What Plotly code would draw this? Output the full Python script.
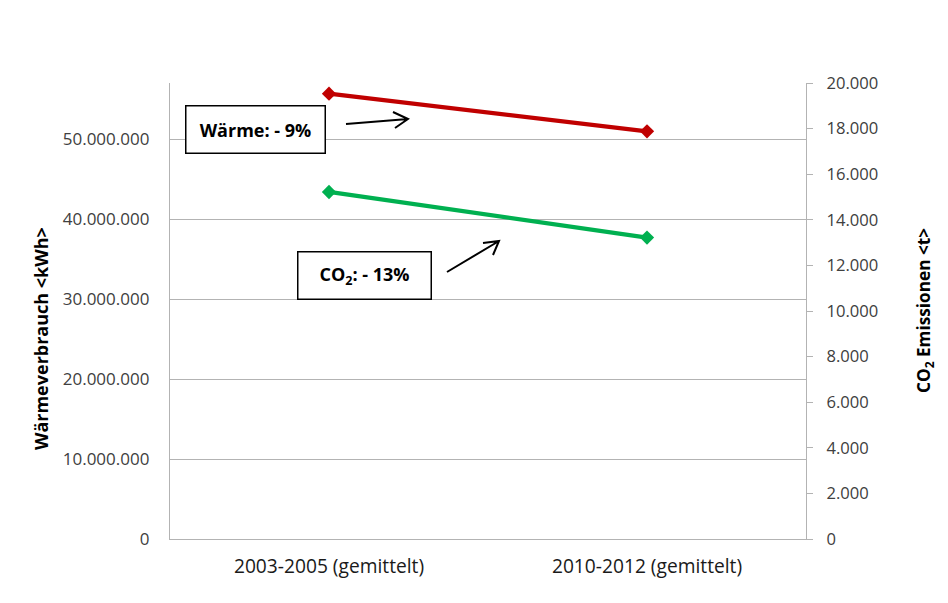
import plotly.graph_objects as go

categories = ["2003-2005 (gemittelt)", "2010-2012 (gemittelt)"]
waerme_kwh = [55_670_000, 50_960_000]
co2_t = [15_220, 13_220]
left_ticks = [0, 10_000_000, 20_000_000, 30_000_000, 40_000_000, 50_000_000]
left_ticklabels = ["0", "10.000.000", "20.000.000", "30.000.000", "40.000.000", "50.000.000"]
right_ticks = [0, 2000, 4000, 6000, 8000, 10000, 12000, 14000, 16000, 18000, 20000]
right_ticklabels = ["0", "2.000", "4.000", "6.000", "8.000", "10.000", "12.000",
                    "14.000", "16.000", "18.000", "20.000"]

W, H = 948, 603
L, R, T, B = 170, 806, 83, 539

def px(x):
    return (x - L) / (R - L)

def py(y):
    return (B - y) / (B - T)

FONT = "Open Sans"
TICKCOL = "#404040"
GRID = "#b3b3b3"

fig = go.Figure()
fig.add_trace(go.Scatter(
    x=categories, y=waerme_kwh, mode="lines+markers", name="Wärme",
    line=dict(color="#C00000", width=4.3),
    marker=dict(symbol="diamond", size=11, color="#C00000"),
    yaxis="y", cliponaxis=False))
fig.add_trace(go.Scatter(
    x=categories, y=co2_t, mode="lines+markers", name="CO2",
    line=dict(color="#00B050", width=4.3),
    marker=dict(symbol="diamond", size=11, color="#00B050"),
    yaxis="y2", cliponaxis=False))

fig.update_layout(
    width=W, height=H,
    margin=dict(l=L, r=W - R, t=T, b=H - B, autoexpand=False),
    paper_bgcolor="white", plot_bgcolor="white",
    showlegend=False,
    font=dict(family=FONT, size=17, color=TICKCOL),
    xaxis=dict(type="category", range=[-0.5, 1.5], showgrid=False,
               showline=True, linecolor=GRID, linewidth=1.3, ticks="",
               tickfont=dict(size=19.2, color="#1a1a1a"), ticklabelstandoff=10),
    yaxis=dict(range=[0, 57_000_000], tickvals=left_ticks, ticktext=left_ticklabels,
               showgrid=True, gridcolor=GRID, gridwidth=1.3,
               showline=True, linecolor=GRID, linewidth=1.3, ticks="",
               zeroline=False, tickfont=dict(size=17, color=TICKCOL),
               ticklabelstandoff=16),
    yaxis2=dict(range=[0, 20000], tickvals=right_ticks, ticktext=right_ticklabels,
                overlaying="y", side="right", showgrid=False,
                showline=True, linecolor=GRID, linewidth=1.3,
                ticks="outside", ticklen=6, tickcolor=GRID, tickwidth=1.3,
                zeroline=False, tickfont=dict(size=16.6, color=TICKCOL),
                ticklabelstandoff=10),
)

annotations = [
    dict(text="<b>Wärmeverbrauch &lt;kWh&gt;</b>", xref="paper", yref="paper",
         x=px(41), y=py(339), xanchor="center", yanchor="middle",
         textangle=-90, showarrow=False,
         font=dict(family=FONT, size=18, color="black")),
    dict(text="<b>CO<sub>2</sub> Emissionen &lt;t&gt;</b>", xref="paper", yref="paper",
         x=px(925), y=py(311), xanchor="center", yanchor="middle",
         textangle=-90, showarrow=False,
         font=dict(family=FONT, size=17.2, color="black")),
    dict(text="<b>Wärme: - 9%</b>", xref="paper", yref="paper",
         x=px(255), y=py(129), xanchor="center", yanchor="middle",
         showarrow=False, width=136, height=44,
         bordercolor="black", borderwidth=1.5, bgcolor="white",
         font=dict(family=FONT, size=18, color="black")),
    dict(text="<b>CO<sub>2</sub>: - 13%</b>", xref="paper", yref="paper",
         x=px(364), y=py(275), xanchor="center", yanchor="middle",
         showarrow=False, width=130, height=44,
         bordercolor="black", borderwidth=1.5, bgcolor="white",
         font=dict(family=FONT, size=18, color="black")),
]
fig.update_layout(annotations=annotations)

def arrow(tail, head, b1, b2):
    p = (f"M {px(tail[0])} {py(tail[1])} L {px(head[0])} {py(head[1])} "
         f"M {px(b1[0])} {py(b1[1])} L {px(head[0])} {py(head[1])} L {px(b2[0])} {py(b2[1])}")
    return dict(type="path", xref="paper", yref="paper", path=p,
                line=dict(color="black", width=2))

fig.update_layout(shapes=[
    arrow((346, 124), (408, 119), (393, 112), (395, 128)),
    arrow((447, 272), (499, 241), (483, 243), (493, 255)),
])

fig.write_html("out.html", config={"displayModeBar": False},
               post_script="document.body.style.margin='0px';")
